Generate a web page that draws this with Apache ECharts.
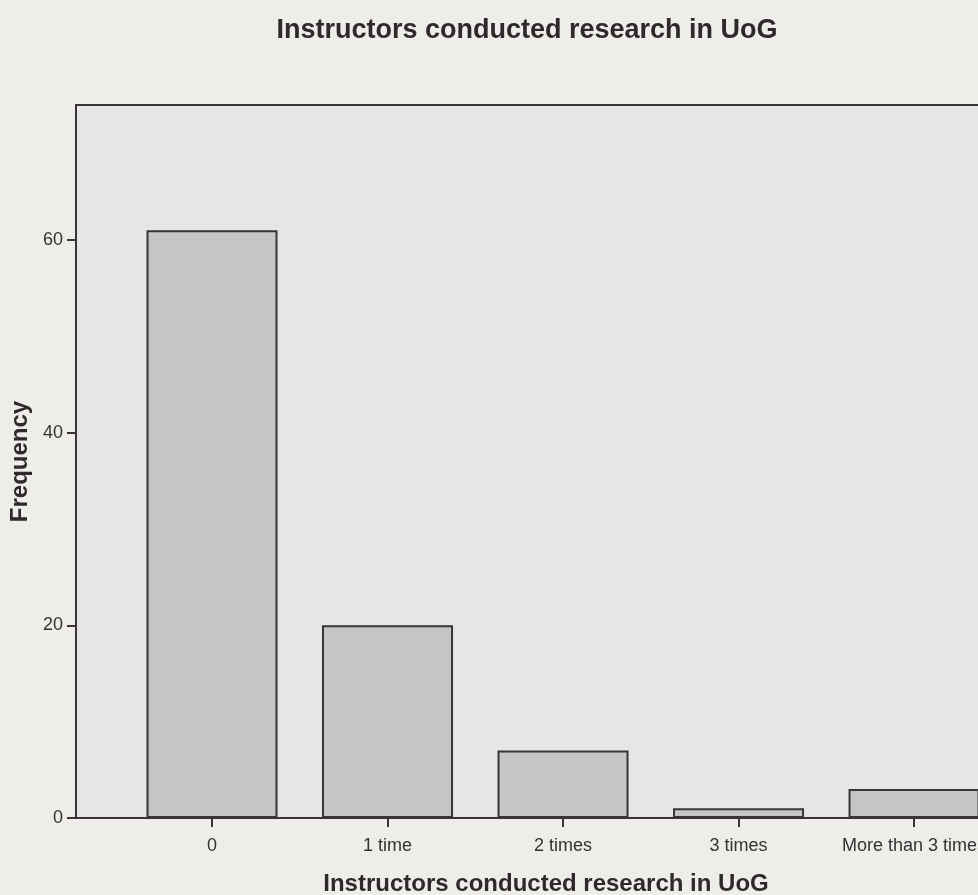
<!DOCTYPE html>
<html><head><meta charset="utf-8">
<script src="https://cdn.jsdelivr.net/npm/echarts@6/dist/echarts.min.js"></script>
<style>html,body{margin:0;padding:0;background:#efede9;}#c{width:978px;height:895px;}</style>
</head><body><div id="c"></div>
<script>
const categories = ['0', '1 time', '2 times', '3 times', 'More than 3 times'];
const frequency = [61, 20, 7, 1, 3];
const yTicks = [0, 20, 40, 60];

const chart = echarts.init(document.getElementById('c'));
const ink = '#3a3338';
const font = 'Liberation Sans, Arial';
chart.setOption({
  backgroundColor: '#efede9',
  animation: false,
  title: {
    text: 'Instructors conducted research in UoG',
    left: 522, top: 12, textAlign: 'center',
    textStyle: {fontFamily: font, fontWeight: 'bold', fontSize: 27, color: '#2e2a2c'}
  },
  grid: {left: 76, top: 105, width: 940, height: 713, show: true, outerBoundsMode: 'none', containLabel: false,
    backgroundColor: '#e6e6e4', borderColor: ink, borderWidth: 2},
  xAxis: {
    type: 'value', min: -0.775, max: 4.581,
    name: 'Instructors conducted research in UoG', nameLocation: 'middle', nameGap: 54,
    nameTextStyle: {fontFamily: font, fontWeight: 'bold', fontSize: 24, color: '#2e2a2c'},
    axisLine: {onZero: false, lineStyle: {color: ink, width: 2}},
    axisTick: {customValues: categories.map((c, i) => i), length: 9, lineStyle: {color: ink, width: 2}},
    axisLabel: {customValues: categories.map((c, i) => i), formatter: v => categories[Math.round(v)] || '',
      margin: 19, fontFamily: font, fontSize: 18, color: '#333'},
    splitLine: {show: false}
  },
  yAxis: {
    type: 'value', min: 0, max: 74,
    name: 'Frequency', nameLocation: 'middle', nameGap: 42,
    nameTextStyle: {fontFamily: font, fontWeight: 'bold', fontSize: 24, color: '#2e2a2c'},
    axisLine: {show: true, onZero: false, lineStyle: {color: ink, width: 2}},
    axisTick: {show: true, customValues: yTicks, length: 9, lineStyle: {color: ink, width: 2}},
    axisLabel: {customValues: yTicks, margin: 13, fontFamily: font, fontSize: 18, color: '#333'},
    splitLine: {show: false}
  },
  series: [{
    type: 'bar', barWidth: 131,
    data: frequency.map((v, i) => [i, v]),
    itemStyle: {color: '#c5c5c4', borderColor: ink, borderWidth: 2}
  }]
});
</script></body></html>
